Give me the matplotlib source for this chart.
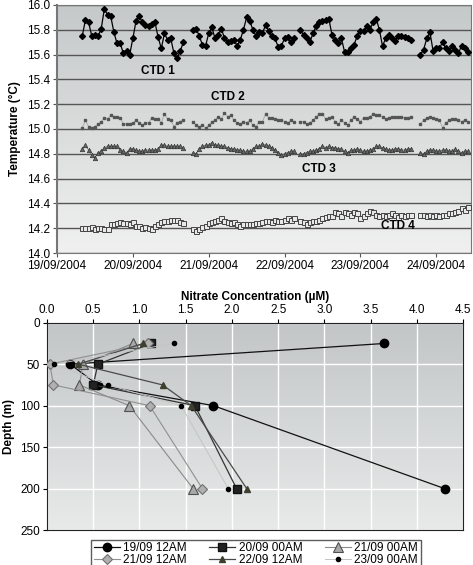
import numpy as np
import matplotlib
matplotlib.use("Agg")
import matplotlib.pyplot as plt
from matplotlib.colors import LinearSegmentedColormap

plt.rcParams['font.family'] = ['Liberation Sans', 'DejaVu Sans']

# ---- top panel: CTD temperature, hourly samples, 4 segments ----
seg_start = [8, 43, 77, 115]   # hours after 19/09/2004 00:00
date_labels = ['19/09/2004', '20/09/2004', '21/09/2004', '22/09/2004', '23/09/2004', '24/09/2004']

ctd1 = [
    [15.75, 15.88, 15.86, 15.75, 15.76, 15.75, 15.81, 15.97, 15.92, 15.91, 15.78, 15.69, 15.69,
     15.61, 15.63, 15.60, 15.73, 15.87, 15.91, 15.86, 15.84, 15.83, 15.85, 15.86, 15.74, 15.65,
     15.77, 15.72, 15.73, 15.61, 15.57, 15.63, 15.70],
    [15.80, 15.81, 15.75, 15.68, 15.67, 15.77, 15.82, 15.73, 15.76, 15.81, 15.73, 15.70, 15.71,
     15.72, 15.67, 15.72, 15.80, 15.90, 15.87, 15.80, 15.75, 15.78, 15.77, 15.84, 15.79, 15.75,
     15.73, 15.66, 15.67, 15.73, 15.74, 15.70, 15.73],
    [15.80, 15.76, 15.73, 15.70, 15.77, 15.83, 15.86, 15.87, 15.88, 15.89, 15.76, 15.72, 15.69,
     15.73, 15.62, 15.62, 15.65, 15.68, 15.75, 15.79, 15.79, 15.83, 15.80, 15.86, 15.89, 15.80,
     15.67, 15.73, 15.76, 15.73, 15.71, 15.75, 15.75, 15.74, 15.73, 15.72],
    [15.60, 15.64, 15.73, 15.78, 15.63, 15.65, 15.65, 15.70, 15.65, 15.63, 15.67, 15.64, 15.61,
     15.67, 15.65, 15.62],
]
ctd2 = [
    [15.01, 15.07, 15.02, 15.01, 15.02, 15.04, 15.06, 15.09, 15.08, 15.11, 15.10, 15.10, 15.09,
     15.04, 15.04, 15.04, 15.05, 15.07, 15.05, 15.03, 15.05, 15.05, 15.09, 15.08, 15.08, 15.05,
     15.12, 15.08, 15.07, 15.02, 15.05, 15.06, 15.07],
    [15.06, 15.03, 15.02, 15.03, 15.01, 15.03, 15.06, 15.07, 15.10, 15.08, 15.13, 15.10, 15.11,
     15.07, 15.05, 15.04, 15.06, 15.05, 15.07, 15.03, 15.02, 15.06, 15.06, 15.12, 15.09, 15.09,
     15.08, 15.07, 15.07, 15.06, 15.05, 15.07, 15.06],
    [15.06, 15.06, 15.04, 15.05, 15.07, 15.10, 15.12, 15.12, 15.08, 15.09, 15.10, 15.06, 15.04,
     15.07, 15.05, 15.03, 15.07, 15.10, 15.08, 15.06, 15.09, 15.09, 15.10, 15.12, 15.11, 15.11,
     15.10, 15.08, 15.09, 15.10, 15.10, 15.10, 15.10, 15.09, 15.09, 15.10],
    [15.04, 15.07, 15.09, 15.10, 15.09, 15.08, 15.07, 15.01, 15.05, 15.07, 15.08, 15.08, 15.07,
     15.06, 15.07, 15.06],
]
ctd3 = [
    [14.84, 14.87, 14.83, 14.79, 14.77, 14.81, 14.82, 14.85, 14.86, 14.86, 14.86, 14.86, 14.83,
     14.82, 14.81, 14.84, 14.84, 14.83, 14.82, 14.82, 14.83, 14.83, 14.83, 14.83, 14.84, 14.87,
     14.87, 14.86, 14.86, 14.86, 14.86, 14.86, 14.85],
    [14.81, 14.80, 14.84, 14.86, 14.87, 14.87, 14.89, 14.87, 14.87, 14.86, 14.86, 14.85, 14.84,
     14.84, 14.83, 14.83, 14.82, 14.82, 14.82, 14.84, 14.86, 14.86, 14.88, 14.87, 14.86, 14.85,
     14.83, 14.81, 14.79, 14.80, 14.81, 14.82, 14.82],
    [14.80, 14.80, 14.81, 14.82, 14.82, 14.83, 14.84, 14.86, 14.85, 14.86, 14.85, 14.85, 14.84,
     14.84, 14.82, 14.81, 14.83, 14.83, 14.84, 14.83, 14.82, 14.82, 14.83, 14.84, 14.86, 14.86,
     14.85, 14.84, 14.83, 14.83, 14.84, 14.84, 14.83, 14.83, 14.84, 14.84],
    [14.81, 14.80, 14.82, 14.83, 14.83, 14.82, 14.82, 14.83, 14.83, 14.82, 14.82, 14.84, 14.82,
     14.81, 14.82, 14.82],
]
ctd4 = [
    [14.20, 14.20, 14.20, 14.21, 14.19, 14.20, 14.20, 14.19, 14.19, 14.23, 14.23, 14.24, 14.25,
     14.24, 14.24, 14.23, 14.25, 14.22, 14.22, 14.20, 14.21, 14.20, 14.19, 14.22, 14.23, 14.25,
     14.26, 14.26, 14.27, 14.27, 14.27, 14.25, 14.24],
    [14.19, 14.18, 14.19, 14.21, 14.22, 14.24, 14.25, 14.26, 14.27, 14.28, 14.26, 14.25, 14.24,
     14.25, 14.23, 14.22, 14.23, 14.23, 14.23, 14.23, 14.24, 14.24, 14.25, 14.26, 14.26, 14.25,
     14.27, 14.26, 14.26, 14.27, 14.28, 14.27, 14.28],
    [14.26, 14.25, 14.23, 14.25, 14.26, 14.26, 14.27, 14.28, 14.29, 14.30, 14.30, 14.33, 14.32,
     14.30, 14.33, 14.32, 14.31, 14.33, 14.32, 14.28, 14.30, 14.32, 14.34, 14.33, 14.31, 14.30,
     14.31, 14.30, 14.31, 14.32, 14.31, 14.29, 14.31, 14.30, 14.31, 14.31],
    [14.31, 14.31, 14.30, 14.31, 14.30, 14.31, 14.30, 14.31, 14.31, 14.32, 14.32, 14.33, 14.34,
     14.36, 14.35, 14.37],
]

# ---- bottom panel: nitrate profiles ----
depths = [25, 50, 75, 100, 200]
n_19_12 = [3.65, 0.25, 0.55, 1.80, 4.30]
n_20_00 = [1.13, 0.55, 0.50, 1.60, 2.05]
n_21_00 = [0.93, 0.39, 0.35, 0.89, 1.58]
n_21_12 = [1.09, 0.03, 0.07, 1.11, 1.68]
n_22_12 = [1.04, 0.34, 1.25, 1.56, 2.16]
n_23_00 = [1.37, 0.08, 0.66, 1.45, 1.96]
profile_labels = ['19/09 12AM', '20/09 00AM', '21/09 00AM', '21/09 12AM', '22/09 12AM', '23/09 00AM']

fig = plt.figure(figsize=(4.73, 5.65), dpi=100)
fs = 8.5


def gradient(ax, top, bottom):
    cmap = LinearSegmentedColormap.from_list('g', [bottom, top])
    ax.imshow(np.linspace(0, 1, 100).reshape(-1, 1)[::-1], cmap=cmap, aspect='auto',
              extent=[0, 1, 0, 1], transform=ax.transAxes, zorder=0)


# top axes
ax1 = fig.add_axes([0.1205, 0.5522, 0.8753, 0.4390])
gradient(ax1, '#c5c9c9', '#f0f0f0')
ax1.set_xlim(0, 131)
ax1.set_ylim(14.0, 16.0)
ax1.set_yticks(np.arange(14.0, 16.01, 0.2))
ax1.set_yticklabels(['%.1f' % v for v in np.arange(14.0, 16.01, 0.2)], fontsize=fs)
ax1.set_xticks(np.arange(0, 121, 24))
ax1.set_xticklabels(date_labels, fontsize=fs)
ax1.yaxis.grid(True, color='#555555', linewidth=1.0)
ax1.set_axisbelow(True)
for sp in ax1.spines.values():
    sp.set_color('#777777')
ax1.spines['left'].set_linewidth(1.5)
ax1.tick_params(direction='out', length=3, color='#555555', pad=2)

styles = [
    (ctd1, dict(color='black', lw=0.9, marker='D', ms=3.0, mfc='black', mec='black')),
    (ctd2, dict(color='#9a9a9a', lw=0.5, marker='s', ms=1.8, mfc='#555555', mec='#555555')),
    (ctd3, dict(color='#777777', lw=0.6, marker='^', ms=3.2, mfc='#666666', mec='#333333', mew=0.5)),
    (ctd4, dict(color='#777777', lw=0.6, marker='s', ms=3.6, mfc='#e8e8e8', mec='#444444', mew=0.7)),
]
for series, st in styles:
    for start, vals in zip(seg_start, series):
        hrs = start + np.arange(len(vals))
        ax1.plot(hrs, vals, zorder=3, **st)

for txt, x, y in [('CTD 1', 32, 15.47), ('CTD 2', 54, 15.26), ('CTD 3', 83, 14.68), ('CTD 4', 108, 14.22)]:
    ax1.text(x, y, txt, fontsize=8.5, fontweight='bold', ha='center', va='center', zorder=4)
ax1.set_ylabel('Temperature (°C)', fontsize=fs, fontweight='bold', labelpad=4)

# bottom axes
ax2 = fig.add_axes([0.0994, 0.0619, 0.8795, 0.3669])
gradient(ax2, '#c2c6c6', '#e8eaea')
ax2.set_xlim(0, 4.5)
ax2.set_ylim(250, 0)
ax2.xaxis.tick_top()
ax2.xaxis.set_label_position('top')
ax2.set_xticks(np.arange(0, 4.51, 0.5))
ax2.set_xticklabels(['%.1f' % v for v in np.arange(0, 4.51, 0.5)], fontsize=fs)
ax2.set_yticks(np.arange(0, 251, 50))
ax2.set_yticklabels([str(v) for v in range(0, 251, 50)], fontsize=fs)
ax2.grid(True, color='white', linewidth=1.0)
ax2.set_axisbelow(True)
ax2.tick_params(direction='out', length=3, pad=2)
for sp in ax2.spines.values():
    sp.set_color('#222222')
ax2.set_xlabel('Nitrate Concentration (µM)', fontsize=fs, fontweight='bold', labelpad=3)
ax2.set_ylabel('Depth (m)', fontsize=fs, fontweight='bold', labelpad=4)

prof = [
    (n_19_12, dict(color='#111111', lw=0.9, marker='o', ms=6, mfc='black', mec='black')),
    (n_20_00, dict(color='#333333', lw=0.9, marker='s', ms=6, mfc='#222222', mec='#111111')),
    (n_21_00, dict(color='#8a8a8a', lw=0.8, marker='^', ms=7, mfc='#a8a8a8', mec='#505050', mew=0.8)),
    (n_21_12, dict(color='#909090', lw=0.8, marker='D', ms=5, mfc='#b0b0b0', mec='#707070', mew=0.8)),
    (n_22_12, dict(color='#4a4a4a', lw=0.9, marker='^', ms=4.5, mfc='#3f3f30', mec='#3f3f30')),
    (n_23_00, dict(color='#c4c4c4', lw=0.7, marker='o', ms=3, mfc='black', mec='black')),
]
handles = []
for (vals, st), lab in zip(prof, profile_labels):
    h, = ax2.plot(vals, depths, label=lab, zorder=3, **st)
    handles.append(h)

# legend fills column by column: reorder so rows read as in the original
order = [0, 3, 1, 4, 2, 5]
leg = fig.legend(handles=[handles[i] for i in order], loc='upper center',
                 bbox_to_anchor=(0.541, 0.0555), ncol=3,
                 fontsize=8.5, frameon=True, fancybox=False, edgecolor='#333333',
                 handlelength=2.2, handletextpad=0.3, columnspacing=1.9, labelspacing=0.05,
                 borderpad=0.2)
leg.get_frame().set_linewidth(1.0)

fig.savefig('out.png', dpi=100)
